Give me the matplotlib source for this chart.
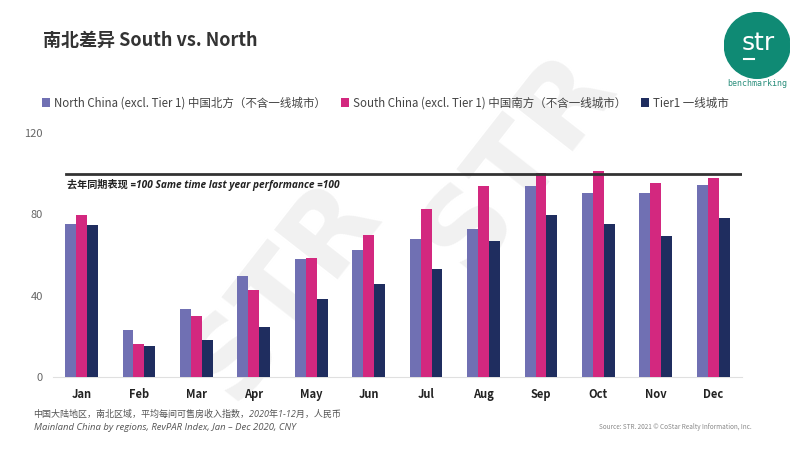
import matplotlib
matplotlib.use("Agg")
import matplotlib.pyplot as plt
from matplotlib.patches import Circle, Patch
import numpy as np

plt.rcParams['font.family'] = ['Noto Sans CJK SC', 'DejaVu Sans']

months = ["Jan", "Feb", "Mar", "Apr", "May", "Jun", "Jul", "Aug", "Sep", "Oct", "Nov", "Dec"]
north = [75.1, 23.4, 33.3, 49.5, 58.0, 62.5, 67.7, 73.0, 93.8, 90.5, 90.5, 94.6]
south = [79.8, 16.2, 30.2, 42.6, 58.5, 69.7, 82.5, 93.8, 100.2, 101.3, 95.2, 97.9]
tier1 = [74.6, 15.1, 18.0, 24.6, 38.2, 45.9, 53.0, 67.0, 79.8, 75.2, 69.5, 78.4]
series_labels = ["North China (excl. Tier 1) 中国北方（不含一线城市）",
                 "South China (excl. Tier 1) 中国南方（不含一线城市）",
                 "Tier1 一线城市"]
colors = ["#7070b3", "#d3287f", "#1f2d5f"]
yticks = [0, 40, 80, 120]
ref_value = 100

fig = plt.figure(figsize=(8, 4.5), dpi=100)
fig.patch.set_facecolor("white")

# watermarks (behind everything)
for (cx, cy) in [(0.354, 0.355), (0.648, 0.64)]:
    wm = fig.text(cx, cy, "STR", fontsize=80, fontweight="bold", color="#f1f1f1",
                  rotation=52, ha="center", va="center", family="DejaVu Sans")
    wm.set_zorder(-5)

ax = fig.add_axes([0.066, 0.162, 0.8615, 0.5424])
ax.set_facecolor("none")
x = np.arange(len(months))
w = 0.19
for i, (vals, c) in enumerate(zip([north, south, tier1], colors)):
    ax.bar(x + (i - 1) * w, vals, width=w, color=c, zorder=3)

ax.set_xlim(-0.5, 11.5)
ax.set_ylim(0, 120)
ax.set_yticks(yticks)
ax.set_xticks(x)
ax.set_xticklabels(months, fontsize=8, fontweight="bold", color="#222222")
ax.tick_params(axis="y", length=0, labelsize=8, labelcolor="#666666", pad=7)
ax.tick_params(axis="x", length=0, pad=8)
for s in ["top", "right", "left"]:
    ax.spines[s].set_visible(False)
ax.spines["bottom"].set_color("#e0e0e0")
ax.spines["bottom"].set_linewidth(0.8)

ax.axhline(ref_value, xmin=0.019, xmax=1.0, color="#333333", linewidth=2, zorder=4)
ax.text(-0.25, 94.5, "去年同期表现 =100 Same time last year performance =100",
        fontsize=7.3, fontweight="bold", style="italic", color="#222222", va="center",
        family=["Open Sans", "Noto Sans CJK SC"])

# title
fig.text(0.054, 0.91, "南北差异 South vs. North", fontsize=13, fontweight="bold",
         color="#333333", va="center")

# legend
handles = [Patch(facecolor=c, edgecolor="none") for c in colors]
fig.legend(handles, series_labels, loc="center left", bbox_to_anchor=(0.039, 0.771),
           ncol=3, frameon=False, fontsize=8.3, handlelength=0.7, handleheight=0.7,
           handletextpad=0.35, columnspacing=1.3, labelcolor="#444444")

# logo
cax = fig.add_axes([0.905, 0.825, 0.083, 0.148])
cax.set_xlim(-1, 1); cax.set_ylim(-1, 1); cax.set_aspect("equal"); cax.axis("off")
cax.add_patch(Circle((0, 0), 0.99, color="#0f8a74"))
cax.text(0.02, 0.08, "str", color="white", fontsize=18, ha="center", va="center",
         family="DejaVu Sans")
cax.plot([-0.40, -0.10], [-0.42, -0.42], color="white", linewidth=1.5)
fig.text(0.946, 0.815, "benchmarking", fontsize=6, color="#2a8f7c", ha="center",
         va="center", family="DejaVu Sans Mono")

# footnotes
fig.text(0.042, 0.08, "中国大陆地区，南北区域，平均每间可售房收入指数，2020年1-12月，人民币",
         fontsize=6.5, style="italic", color="#555555", va="center",
         family=["Open Sans", "Noto Sans CJK SC"])
fig.text(0.042, 0.051, "Mainland China by regions, RevPAR Index, Jan – Dec 2020, CNY",
         fontsize=6.8, style="italic", color="#555555", va="center",
         family=["Open Sans", "Noto Sans CJK SC"])
fig.text(0.94, 0.051, "Source: STR. 2021 © CoStar Realty Information, Inc.",
         fontsize=4.6, color="#888888", va="center", ha="right")

fig.savefig("out.png", dpi=100, facecolor="white")
